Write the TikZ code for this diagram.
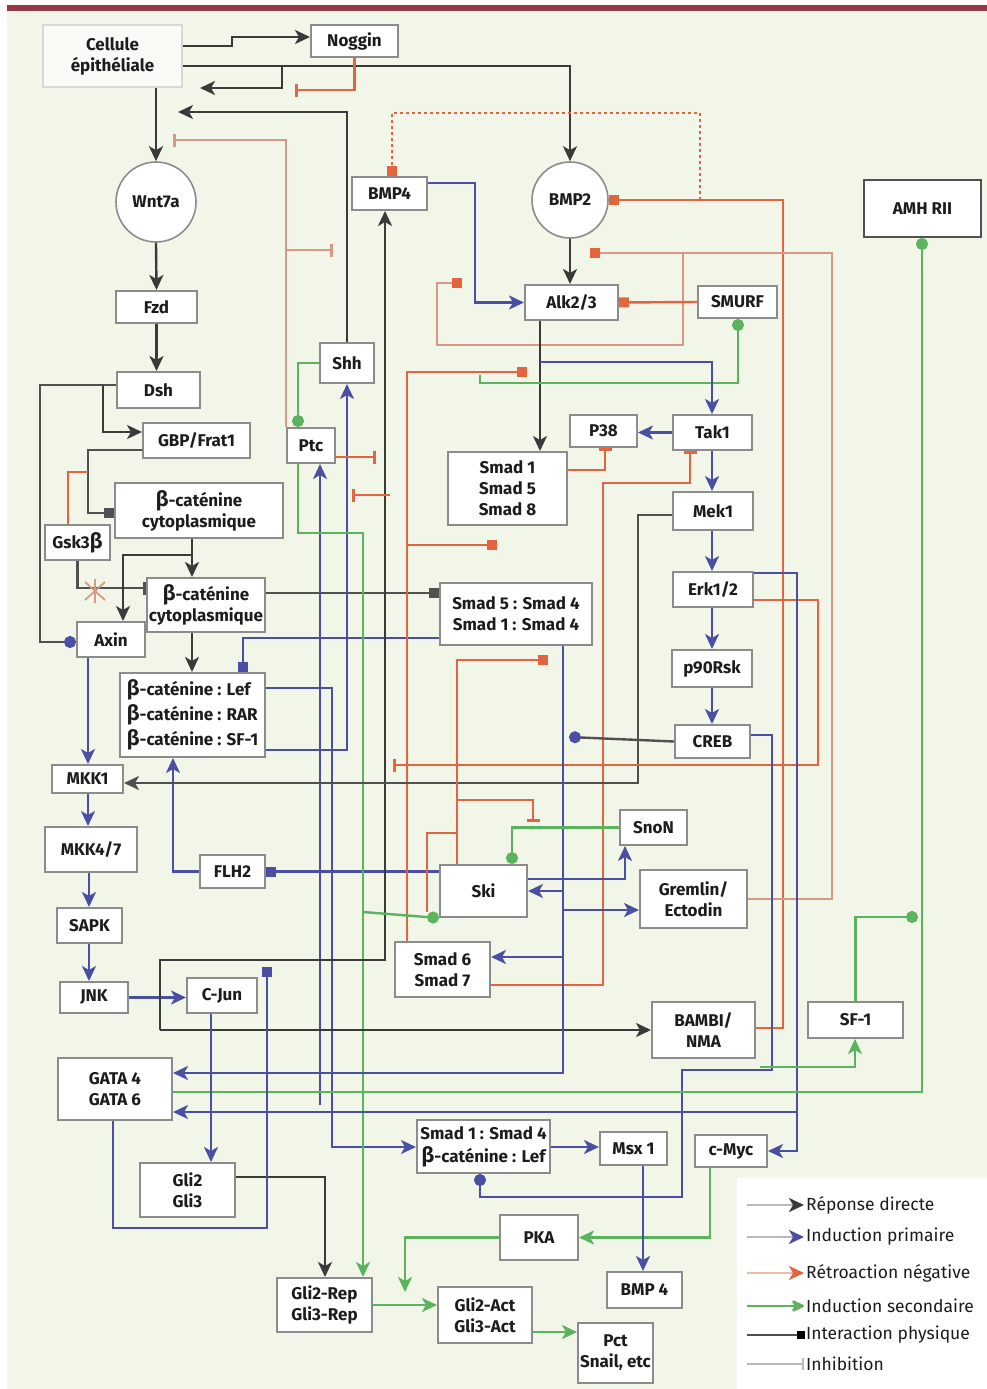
\documentclass[tikz,border=0pt]{standalone}
\usepackage{fontspec}
\setmainfont{Fira Sans}
\usetikzlibrary{arrows.meta}
\definecolor{bg}{HTML}{F1F6E9}
\definecolor{topbar}{HTML}{963843}
\definecolor{blk}{HTML}{3A3A3A}
\definecolor{dgr}{HTML}{505050}
\definecolor{blu}{HTML}{4B4FA3}
\definecolor{ora}{HTML}{E2653F}
\definecolor{pnk}{HTML}{D49A86}
\definecolor{grn}{HTML}{5BB35E}
\definecolor{bx}{HTML}{8C8C8C}
\definecolor{txt}{HTML}{1C1C1C}
\newcommand\bgr{{\fontsize{21}{21}\selectfont β}}
\pgfdeclarelayer{bottom}
\pgfdeclarelayer{lines}
\pgfsetlayers{bottom,lines,main}
\tikzset{
 box/.style={draw=bx, line width=2pt, fill=white, align=center, inner sep=1pt, text=txt, font=\bfseries\fontsize{17}{21}\selectfont},
 lightbox/.style={box, draw=bx!35, fill=bg!40!white},
 circ/.style={circle, draw=bx, line width=1.6pt, fill=white, inner sep=0pt, text=txt, font=\bfseries\fontsize{17}{21}\selectfont},
 ln/.style={line width=2.4pt},
 tarr/.style={-{Stealth[length=15pt,width=14pt,inset=4pt]}},
 tbar/.style={-{Bar[width=13pt,line width=3pt]}},
 tsq/.style={-{Square[length=10pt,width=10pt]}},
 tdot/.style={-{Circle[length=12pt,width=12pt]}},
 kb/.style={ln, draw=blk, tarr},
 kv/.style={ln, draw=blu, tarr},
 ko/.style={ln, draw=ora},
 kp/.style={ln, draw=pnk},
 kg/.style={ln, draw=grn},
 kd/.style={ln, draw=dgr},
 legt/.style={anchor=west, inner sep=0pt, text=txt, font=\fontsize{17.5}{19}\selectfont},
}
\begin{document}
\begin{tikzpicture}[x=1pt,y=-1pt]
\useasboundingbox (0,0) rectangle (987,1389);
\begin{pgfonlayer}{bottom}
\fill[white] (0,0) rectangle (987,1389);
\fill[bg] (7,12) rectangle (987,1389);
\fill[topbar] (7,5) rectangle (987,11);
\fill[white] (737,1178) rectangle (987,1389);
\end{pgfonlayer}

% ---------- nodes ----------
\node[lightbox, minimum width=139, minimum height=62] (cell) at (112.5,56) {Cellule\\épithéliale};
\node[box, minimum width=87, minimum height=32] (noggin) at (354.5,41) {Noggin};
\node[circ, minimum size=80] (wnt) at (156,202) {Wnt7a};
\node[box, minimum width=81, minimum height=32] (fzd) at (156.5,307) {Fzd};
\node[box, minimum width=83, minimum height=36] (dsh) at (158.5,390) {Dsh};
\node[box, minimum width=107, minimum height=35] (gbp) at (196.5,440.5) {GBP/Frat1};
\node[box, minimum width=168, minimum height=55] (bcat1) at (199,510.5) {\bgr-caténine\\cytoplasmique};
\node[box, minimum width=65, minimum height=35] (gsk) at (77.5,542.5) {Gsk3\bgr};
\node[box, minimum width=118, minimum height=54] (bcat2) at (206,605) {\bgr-caténine\\cytoplasmique};
\node[box, minimum width=68, minimum height=35] (axin) at (111,639.5) {Axin};
\node[box, minimum width=145, minimum height=84, align=left, font=\bfseries\fontsize{17}{25}\selectfont] (bcatlef) at (192.5,715) {\bgr-caténine : Lef\\\bgr-caténine : RAR\\\bgr-caténine : SF-1};
\node[box, minimum width=71, minimum height=28] (mkk1) at (87.5,779) {MKK1};
\node[box, minimum width=92, minimum height=45] (mkk47) at (91,849.5) {MKK4/7};
\node[box, minimum width=65, minimum height=35] (sapk) at (89.5,925.5) {SAPK};
\node[box, minimum width=68, minimum height=31] (jnk) at (94,997.5) {JNK};
\node[box, minimum width=70, minimum height=35] (cjun) at (222,995.5) {C-Jun};
\node[box, minimum width=65, minimum height=33] (flh2) at (232.5,871.5) {FLH2};
\node[box, minimum width=54, minimum height=40] (shh) at (347,363) {Shh};
\node[box, minimum width=48, minimum height=35] (ptc) at (311,445.5) {Ptc};
\node[box, minimum width=75, minimum height=33] (bmp4t) at (389.5,193.5) {BMP4};
\node[circ, minimum size=76] (bmp2) at (570,200) {BMP2};
\node[box, minimum width=93, minimum height=35] (alk) at (571.5,302.5) {Alk2/3};
\node[box, minimum width=79, minimum height=32] (smurf) at (737.5,302) {SMURF};
\node[box, minimum width=117, minimum height=57, draw=dgr] (amh) at (922.5,208.5) {AMH RII};
\node[box, minimum width=67, minimum height=32] (p38) at (603.5,431) {P38};
\node[box, minimum width=79, minimum height=35] (tak1) at (712.5,432.5) {Tak1};
\node[box, minimum width=80, minimum height=38] (mek1) at (713,511) {Mek1};
\node[box, minimum width=80, minimum height=35] (erk) at (713,589.5) {Erk1/2};
\node[box, minimum width=80, minimum height=37] (p90) at (712,668.5) {p90Rsk};
\node[box, minimum width=75, minimum height=33] (creb) at (712.5,741.5) {CREB};
\node[box, minimum width=119, minimum height=73] (smad158) at (507.5,488.5) {Smad 1\\Smad 5\\Smad 8};
\node[box, minimum width=152, minimum height=62] (smad54) at (516,614) {Smad 5 : Smad 4\\Smad 1 : Smad 4};
\node[box, minimum width=67, minimum height=35] (snon) at (653.5,827.5) {SnoN};
\node[box, minimum width=107, minimum height=58] (gremlin) at (693.5,899) {Gremlin/\\Ectodin};
\node[box, minimum width=87, minimum height=52] (ski) at (483.5,891) {Ski};
\node[box, minimum width=95, minimum height=55] (smad67) at (442.5,969.5) {Smad 6\\Smad 7};
\node[box, minimum width=103, minimum height=56] (bambi) at (703.5,1030) {BAMBI/\\NMA};
\node[box, minimum width=95, minimum height=36] (sf1) at (855.5,1020) {SF-1};
\node[box, minimum width=114, minimum height=62] (gata) at (115,1089) {GATA 4\\GATA 6};
\node[box, minimum width=95, minimum height=54] (gli23) at (187.5,1190) {Gli2\\Gli3};
\node[box, minimum width=95, minimum height=54] (glirep) at (324.5,1305) {Gli2-Rep\\Gli3-Rep};
\node[box, minimum width=133, minimum height=53, font=\bfseries\fontsize{17}{23}\selectfont] (smad14lef) at (483.5,1146.5) {Smad 1 : Smad 4\\\bgr-caténine : Lef};
\node[box, minimum width=67, minimum height=33] (msx1) at (633.5,1148.5) {Msx 1};
\node[box, minimum width=72, minimum height=32] (cmyc) at (731,1151) {c-Myc};
\node[box, minimum width=78, minimum height=45] (pka) at (539,1237.5) {PKA};
\node[box, minimum width=75, minimum height=36] (bmp4b) at (644.5,1290) {BMP 4};
\node[box, minimum width=94, minimum height=56] (gliact) at (485,1315) {Gli2-Act\\Gli3-Act};
\node[box, minimum width=75, minimum height=60] (pct) at (615.5,1353) {Pct\\Snail, etc};

% legend
\node[legt] (l1) at (806,1205) {Réponse directe};
\node[legt] (l2) at (806,1237) {Induction primaire};
\node[legt] (l3) at (806,1273) {Rétroaction négative};
\node[legt] (l4) at (806,1306) {Induction secondaire};
\node[legt] (l5) at (806,1335) {Interaction physique};
\node[legt] (l6) at (806,1364) {Inhibition};

% ---------- connectors ----------
\begin{pgfonlayer}{lines}
% top
\draw[kb] (cell.east |- 0,46) -- (232,46) -- (232,37) -- (noggin.west |- 0,37);
\draw[kb] (cell.east |- 0,66) -- (bmp2.north |- 0,66) -- (bmp2.north);
\coordinate (cin1) at (200,88);
\draw[kb] (282,66) -- (282,88) -- (cin1);
\coordinate (ni1) at (295,90);
\draw[ko,tbar] (noggin.south) -- (noggin.south |- ni1) -- (ni1);
\coordinate (cin2) at (178,112);
\draw[kb] (shh.north) -- (shh.north |- cin2) -- (cin2);
\draw[kb] (wnt.north |- cell.south) -- (wnt.north);
\coordinate (pi1) at (173,140);
\draw[kp,tbar] (ptc.north west) -- (ptc.north west |- pi1) -- (pi1);
\coordinate (pi2) at (333,250);
\draw[kp,tbar] (287,250) -- (pi2);
% wnt pathway
\draw[kb] (wnt.south) -- (fzd.north);
\draw[kb] (fzd.south) -- (fzd.south |- dsh.north);
\draw[kd,-{Circle[length=12pt,width=12pt,color=blu]}] (dsh.west |- 0,385) -- (40,385) -- (40,642) -- (axin.west |- 0,642);
\draw[kb] (103,385) -- (103,432) -- (gbp.west |- 0,432);
\draw[kd,tsq] (gbp.west |- 0,450) -- (88,450) -- (88,513) -- (bcat1.west |- 0,513);
\draw[ko] (gsk.north -| 68,0) -- (68,472) -- (88,472);
\draw[kd,tbar] (gsk.south) -- (gsk.south |- 0,588) -- (bcat2.west |- 0,588);
\draw[kp,line width=1.8pt] (85,582) -- (105,600) (85,600) -- (105,582) (95,579) -- (95,603);
\draw[kb] (bcat1.south -| 192,0) -- (bcat2.north -| 192,0);
\draw[kb] (192,555) -- (123,555) -- (axin.north -| 123,0);
\draw[kb] (bcat2.south -| 192,0) -- (bcatlef.north -| 192,0);
% MAPK left
\draw[kv] (axin.south -| 88,0) -- (mkk1.north -| 88,0);
\draw[kv] (mkk1.south -| 88,0) -- (mkk47.north -| 88,0);
\draw[kv] (mkk47.south -| 89,0) -- (sapk.north -| 89,0);
\draw[kv] (sapk.south -| 89,0) -- (jnk.north -| 89,0);
\draw[kv] (jnk.east) -- (jnk.east -| cjun.west);
% beta-catenin links
\draw[kd,tsq] (bcat2.east |- 0,593) -- (smad54.west |- 0,593);
\draw[ln,draw=blu,tsq] (smad54.west |- 0,638) -- (243,638) -- (bcatlef.north -| 243,0);
\draw[kv] (bcatlef.east |- 0,688) -- (332,688) -- (332,1147) -- (smad14lef.west |- 0,1147);
\draw[kv] (flh2.west) -- (173,871.5) -- (bcatlef.south -| 173,0);
\draw[ln,draw=blu,tsq] (ski.west |- 0,871.5) -- (flh2.east);
\draw[kv] (bcatlef.east |- 0,750) -- (347,750) -- (shh.south);
\coordinate (pb) at (320,1105);
\draw[kv] (pb) -- (ptc.south -| pb);
% hedgehog
\draw[kg,tdot] (shh.west) -- (298,363) -- (ptc.north -| 298,0);
\draw[kg,tarr] (ptc.south -| 298,0) -- (298,533) -- (363,533) -- (glirep.north -| 363,0);
\draw[kb] (160,1030) -- (bambi.west |- 0,1030);
\draw[kb] (160,1030) -- (160,960) -- (385,960) -- (bmp4t.south -| 385,0);
% BMP
\coordinate (dt) at (700,200);
\draw[ko,dash pattern=on 3pt off 3pt,tsq] (dt) -- (700,113) -- (392,113) -- (bmp4t.north -| 392,0);
\draw[ko,tsq] (bambi.east |- 0,1028) -- (783,1028) -- (783,200) -- (bmp2.east);
\coordinate (g1) at (590,253);
\draw[kp,-{Square[length=10pt,width=10pt,color=ora]}] (gremlin.east) -- (832,899) -- (832,253) -- (g1);
\coordinate (g2) at (462,283);
\draw[kp,-{Square[length=10pt,width=10pt,color=ora]}] (683,253) -- (683,345) -- (437,345) -- (437,283) -- (g2);
\draw[kb] (bmp2.south) -- (alk.north -| bmp2.south);
\draw[kv] (bmp4t.east |- 0,183) -- (475,183) -- (475,302.5) -- (alk.west);
\draw[ko,tsq] (smurf.west) -- (alk.east);
\draw[kb] (alk.south -| 540,0) -- (smad158.north -| 540,0);
\coordinate (s1) at (527,372);
\draw[ko,tsq] (smad67.north -| 407,0) -- (407,372) -- (s1);
\coordinate (s2) at (497,545);
\draw[ko,tsq] (407,545) -- (s2);
\draw[kg,tdot] (480,375) -- (480,383) -- (738,383) -- (smurf.south -| 738,0);
% MAPK right
\draw[kv] (540,362) -- (712,362) -- (tak1.north -| 712,0);
\draw[kv] (tak1.west) -- (tak1.west -| p38.east);
\draw[kv] (tak1.south -| 712,0) -- (mek1.north -| 712,0);
\draw[kv] (mek1.south -| 712,0) -- (erk.north -| 712,0);
\draw[kv] (erk.south -| 712,0) -- (p90.north -| 712,0);
\draw[kv] (p90.south -| 712,0) -- (creb.north -| 712,0);
\draw[ko,tbar] (smad158.east |- 0,470) -- (605,470) -- (p38.south -| 605,0);
\draw[ko,tbar] (smad67.east |- 0,985) -- (603,985) -- (603,483) -- (690,483) -- (tak1.south -| 690,0);
\draw[kd,tarr] (mek1.west |- 0,515) -- (638,515) -- (638,783) -- (mkk1.east |- 0,783);
\coordinate (e1) at (393,765);
\draw[ko,tbar] (erk.east |- 0,600) -- (818,600) -- (818,765) -- (e1);
\draw[kv] (erk.east |- 0,573) -- (797,573) -- (797,1151) -- (cmyc.east);
\draw[kv] (797,1112) -- (gata.east |- 0,1112);
\draw[ln,draw=blu,tdot] (creb.east |- 0,735) -- (772,735) -- (772,1070) -- (682,1070) -- (682,1197) -- (480,1197) -- (smad14lef.south -| 480,0);
\coordinate (c1) at (569,737);
\draw[kd,-{Circle[length=12pt,width=12pt,color=blu]}] (creb.west) -- (c1);
% Smad / Ski
\draw[kv] (smad54.south -| 563,0) -- (563,1073) -- (gata.east |- 0,1073);
\draw[kv] (563,891) -- (ski.east |- 0,891);
\draw[kv] (563,910) -- (gremlin.west |- 0,910);
\draw[kv] (563,957) -- (smad67.east |- 0,957);
\draw[kv] (ski.east |- 0,879) -- (625,879) -- (snon.south -| 625,0);
\draw[kg,tdot] (snon.west) -- (512,827.5) -- (ski.north -| 512,0);
\coordinate (k1) at (548,660);
\draw[ko,tsq] (ski.north -| 457,0) -- (457,660) -- (k1);
\coordinate (k2) at (533,822);
\draw[ko,tbar] (457,800) -- (533,800) -- (k2);
\draw[ko] (457,833) -- (427,833) -- (427,912);
\draw[kg,tdot] (363,912) -- (ski.south west);
\draw[ko,tbar] (ptc.east |- 0,457) -- (376,457);
\coordinate (pb2) at (352,495);
\draw[ko,tbar] (390,495) -- (pb2);
% SF-1 / AMH
\draw[kg,tdot] (gata.east |- 0,1092) -- (922,1092) -- (amh.south -| 922,0);
\coordinate (sfj) at (918,917);
\draw[kg,tdot] (sf1.north) -- (sf1.north |- sfj) -- (sfj);
\coordinate (sfin) at (760,1067);
\draw[kg,tarr] (sfin) -- (855,1067) -- (sf1.south -| 855,0);
% bottom
\draw[kg,tarr] (cmyc.south -| 710,0) -- (710,1237.5) -- (pka.east);
\coordinate (pk) at (405,1292);
\draw[kg,tarr] (pka.west) -- (405,1237.5) -- (pk);
\draw[kg,tarr] (glirep.east |- 0,1305) -- (gliact.west |- 0,1305);
\draw[kg,tarr] (gliact.east |- 0,1332) -- (pct.west |- 0,1332);
\draw[kv] (msx1.south -| 643,0) -- (bmp4b.north -| 643,0);
\draw[kv] (smad14lef.east |- 0,1147) -- (msx1.west |- 0,1147);
\draw[kb] (gli23.east |- 0,1177) -- (325,1177) -- (glirep.north -| 325,0);
\draw[kv] (cjun.south -| 211,0) -- (gli23.north -| 211,0);
\draw[ln,draw=blu,tsq] (gata.south -| 113,0) -- (113,1228) -- (267,1228) -- (267,967);
% legend lines
\draw[ln,draw=gray!55,-{Stealth[length=15pt,width=14pt,inset=4pt,color=blk]}] (747,1205) -- ([xshift=-2pt]l1.west);
\draw[ln,draw=gray!55,-{Stealth[length=15pt,width=14pt,inset=4pt,color=blu]}] (747,1237) -- ([xshift=-2pt]l2.west);
\draw[ln,draw=ora!45,-{Stealth[length=15pt,width=14pt,inset=4pt,color=ora]}] (747,1273) -- ([xshift=-2pt]l3.west);
\draw[ln,draw=grn,-{Stealth[length=15pt,width=14pt,inset=4pt,round]}] (747,1306) -- ([xshift=-2pt]l4.west);
\draw[ln,draw=dgr,-{Square[length=8pt,width=8pt,color=black]}] (747,1335) -- ([xshift=-1pt]l5.west);
\draw[ln,draw=gray!55,-{Bar[width=12pt,line width=2.4pt]}] (747,1364) -- ([xshift=-2pt]l6.west);
\end{pgfonlayer}
\end{tikzpicture}
\end{document}
